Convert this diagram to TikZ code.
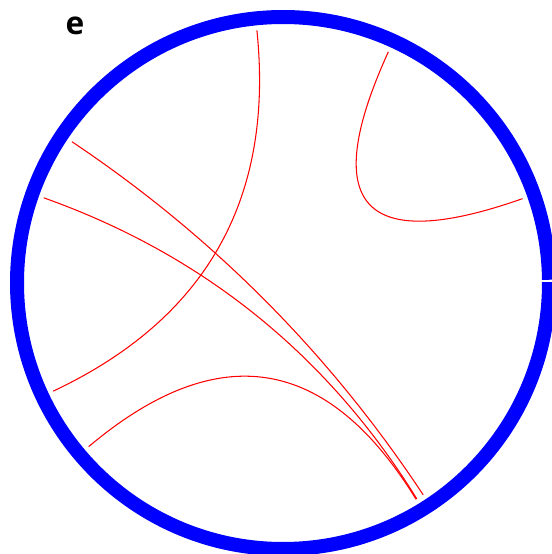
\documentclass[tikz,border=0pt]{standalone}
\usepackage{fontspec}
\setsansfont{Open Sans}
\usepackage{tikz}
\definecolor{ringblue}{RGB}{0,0,255}
\definecolor{linkred}{RGB}{255,0,0}
\tikzset{
  ring/.style={draw=ringblue, line width=0.28cm},
  linkline/.style={draw=linkred, line width=0.6pt},
  panellabel/.style={font=\sffamily\bfseries\fontsize{18}{21}\selectfont,
    inner sep=0pt, anchor=base},
}
% link between two angles on the disc, bent through the centre
\newcommand{\chordlink}[2]{%
  \draw[linkline] (#1:254) .. controls (#1:84.7) and (#2:84.7) .. (#2:254);}

\begin{document}
\begin{tikzpicture}[x=0.02cm, y=0.02cm]
  \useasboundingbox (-283,-271) rectangle (268,283);
  \coordinate (O) at (0,0);

  % outer ring
  \draw[ring] (0.7:266) arc[start angle=0.7, end angle=360.2, radius=266];

  % links
  \chordlink{95.9}{205.2}
  \chordlink{65.5}{19.4}
  \chordlink{146.2}{303.5}
  \chordlink{160.4}{301.8}
  \chordlink{220.1}{301.6}

  \node[panellabel] (lbl) at (-208,248) {e};
\end{tikzpicture}
\end{document}
